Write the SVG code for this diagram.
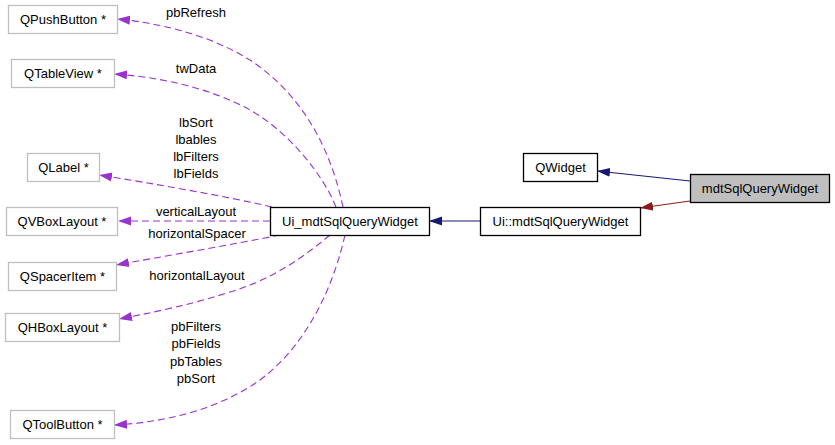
<svg xmlns="http://www.w3.org/2000/svg" width="835" height="445" viewBox="0 0 835 445">
<style>
text { font-family: "Liberation Sans", Arial, sans-serif; font-size: 13px; fill: #000; }
.node text { text-anchor: middle; }
.ext { fill: #fff; stroke: #bfbfbf; stroke-width: 1.3; }
.cls { fill: #fff; stroke: #000; stroke-width: 1.3; }
.cur { fill: #bfbfbf; stroke: #000; stroke-width: 1.3; }
.dep { fill: none; stroke: #9a32cd; stroke-width: 1.1; stroke-dasharray: 7,4; marker-end: url(#ap); }
.inh { fill: none; stroke: #191970; stroke-width: 1.1; marker-end: url(#an); }
.pri { fill: none; stroke: #8b1a1a; stroke-width: 1.1; marker-end: url(#ar); }
.lbl { text-anchor: middle; }
</style>
<defs>
<marker id="ap" markerUnits="userSpaceOnUse" viewBox="0 0 13 10" refX="13" refY="5" markerWidth="13" markerHeight="10" orient="auto"><path d="M0,0.5 L13,5 L0,9.5 z" fill="#9a32cd" stroke="none"/></marker>
<marker id="an" markerUnits="userSpaceOnUse" viewBox="0 0 13 10" refX="13" refY="5" markerWidth="13" markerHeight="10" orient="auto"><path d="M0,0.5 L13,5 L0,9.5 z" fill="#191970" stroke="none"/></marker>
<marker id="ar" markerUnits="userSpaceOnUse" viewBox="0 0 13 10" refX="13" refY="5" markerWidth="13" markerHeight="10" orient="auto"><path d="M0,0.5 L13,5 L0,9.5 z" fill="#8b1a1a" stroke="none"/></marker>
</defs>
<g id="connectors">
<path class="inh" d="M690,181 L597,171"/>
<path class="pri" d="M690,201 L640,208"/>
<path class="inh" d="M480,221 L429,221"/>
<path class="dep" d="M343,207 C333,160 310,100 250,60 C210,35 160,23 117,19"/>
<path class="dep" d="M336,207 C322,172 286,130 250,110 C210,88 160,77 114,74"/>
<path class="dep" d="M272,207 C230,197 150,183 99,175"/>
<path class="dep" d="M270,221 L118,221"/>
<path class="dep" d="M280,235 C230,245 160,257 116,265"/>
<path class="dep" d="M330,235 C300,260 270,280 230,292 C190,305 150,313 119,319"/>
<path class="dep" d="M345,235 C330,300 300,350 260,380 C220,408 170,422 114,425"/>
<text class="lbl" x="196" y="17">pbRefresh</text>
<text class="lbl" x="196" y="73">twData</text>
<text class="lbl" x="196" y="127">lbSort</text>
<text class="lbl" x="196" y="144">lbables</text>
<text class="lbl" x="196" y="161">lbFilters</text>
<text class="lbl" x="196" y="178">lbFields</text>
<text class="lbl" x="196" y="216">verticalLayout</text>
<text class="lbl" x="197" y="238">horizontalSpacer</text>
<text class="lbl" x="197" y="280">horizontalLayout</text>
<text class="lbl" x="196" y="331">pbFilters</text>
<text class="lbl" x="196" y="348">pbFields</text>
<text class="lbl" x="196" y="366">pbTables</text>
<text class="lbl" x="196" y="383">pbSort</text>
</g>
<g id="mdtSqlQueryWidget" class="node"><rect class="cur" x="690.5" y="174.5" width="139" height="28"/><text x="760" y="193">mdtSqlQueryWidget</text></g>
<g id="QWidget" class="node"><rect class="cls" x="523.5" y="153.5" width="74" height="28"/><text x="560.5" y="172">QWidget</text></g>
<g id="Ui_ns_mdtSqlQueryWidget" class="node"><rect class="cls" x="480.5" y="207.5" width="160" height="28"/><text x="560.5" y="226">Ui::mdtSqlQueryWidget</text></g>
<g id="Ui_mdtSqlQueryWidget" class="node"><rect class="cls" x="270.5" y="207.5" width="159" height="28"/><text x="350" y="226">Ui_mdtSqlQueryWidget</text></g>
<g id="QPushButton" class="node"><rect class="ext" x="8.5" y="5.5" width="109" height="28"/><text x="63" y="24">QPushButton *</text></g>
<g id="QTableView" class="node"><rect class="ext" x="11.5" y="59.5" width="103" height="28"/><text x="63" y="78">QTableView *</text></g>
<g id="QLabel" class="node"><rect class="ext" x="27.5" y="153.5" width="72" height="28"/><text x="63.5" y="172">QLabel *</text></g>
<g id="QVBoxLayout" class="node"><rect class="ext" x="6.5" y="207.5" width="111" height="28"/><text x="62" y="226">QVBoxLayout *</text></g>
<g id="QSpacerItem" class="node"><rect class="ext" x="8.5" y="262.5" width="108" height="28"/><text x="62.5" y="281">QSpacerItem *</text></g>
<g id="QHBoxLayout" class="node"><rect class="ext" x="5.5" y="313.5" width="114" height="28"/><text x="62.5" y="332">QHBoxLayout *</text></g>
<g id="QToolButton" class="node"><rect class="ext" x="10.5" y="410.5" width="104" height="28"/><text x="62.5" y="429">QToolButton *</text></g>
</svg>
